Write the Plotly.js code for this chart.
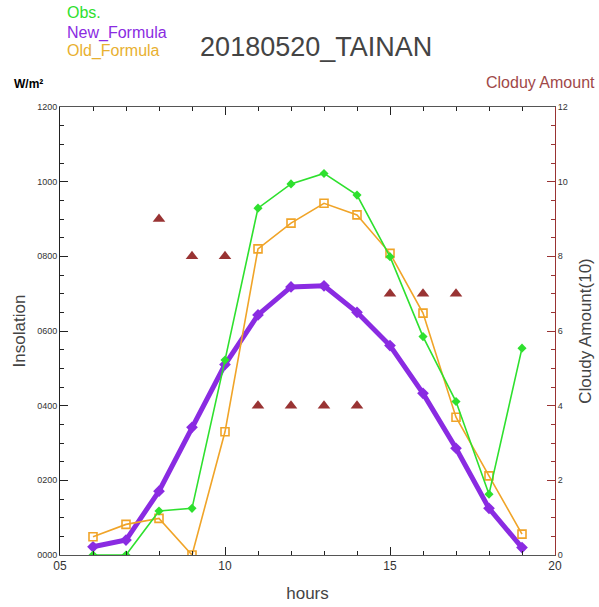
<!DOCTYPE html>
<html>
<head>
<meta charset="utf-8">
<script src="https://cdn.plot.ly/plotly-3.0.1.min.js"></script>
<style>html,body{margin:0;padding:0;background:#fff;}#chart{width:599px;height:607px;}</style>
</head>
<body>
<div id="chart"></div>
<script>
const hours = [6, 7, 8, 9, 10, 11, 12, 13, 14, 15, 16, 17, 18, 19];
const obs = [0, 0, 118, 125, 522, 929, 994, 1022, 964, 799, 585, 411, 163, 554];
const newFormula = [22, 40, 171, 342, 510, 643, 718, 721, 650, 561, 433, 286, 125, 20];
const oldFormula = [49, 82, 98, 0, 330, 820, 889, 942, 911, 808, 648, 369, 212, 56];
const cloudAmount = [null, null, 9, 8, 8, 4, 4, 4, 4, 7, 7, 7, null, null];
const xTickVals = [5, 10, 15, 20];
const xTickText = ['05', '10', '15', '20'];
const yTickVals = [0, 200, 400, 600, 800, 1000, 1200];
const yTickText = ['0000', '0200', '0400', '0600', '0800', '1000', '1200'];
const y2TickVals = [0, 2, 4, 6, 8, 10, 12];
const y2TickText = ['0', '2', '4', '6', '8', '10', '12'];

const FONT = 'Liberation Sans, Arial, sans-serif';
const GREEN = '#2ee02e', PURPLE = '#8a2be2', ORANGE = '#f0a428', BROWN = '#993333';

const traces = [
  {x: hours, y: cloudAmount, yaxis: 'y2', mode: 'markers', type: 'scatter',
   marker: {symbol: 'triangle-up', size: 11, color: BROWN}, hoverinfo: 'skip'},
  {x: hours, y: newFormula, mode: 'lines+markers', type: 'scatter',
   line: {color: PURPLE, width: 5}, marker: {symbol: 'diamond', size: 9, color: PURPLE}},
  {x: hours, y: oldFormula, mode: 'lines+markers', type: 'scatter',
   line: {color: ORANGE, width: 1.6}, marker: {symbol: 'square-open', size: 8, color: ORANGE, line: {width: 1.6}}},
  {x: hours, y: obs, mode: 'lines+markers', type: 'scatter',
   line: {color: GREEN, width: 1.6}, marker: {symbol: 'diamond', size: 7, color: GREEN}}
];

const layout = {
  width: 599, height: 607,
  margin: {l: 60, r: 44, t: 107, b: 52, pad: 0},
  paper_bgcolor: '#fff', plot_bgcolor: '#fff',
  showlegend: false,
  font: {family: FONT, color: '#333'},
  title: {text: '20180520_TAINAN', font: {family: FONT, size: 27, color: '#444'},
          x: 310 / 599, xanchor: 'center', xref: 'paper', y: 1 - 47 / 607, yanchor: 'middle', yref: 'container'},
  xaxis: {
    range: [5, 20], tickmode: 'array', tickvals: xTickVals, ticktext: xTickText,
    ticks: 'inside', ticklen: 8, tickcolor: '#222', tickwidth: 1,
    minor: {dtick: 1, ticks: 'inside', ticklen: 4, tickcolor: '#222'},
    showline: true, linecolor: '#555', linewidth: 1, mirror: 'ticks',
    showgrid: false, zeroline: false,
    tickfont: {family: FONT, size: 12, color: '#333'},
    title: {text: 'hours', font: {family: FONT, size: 17, color: '#444'}, standoff: 14}
  },
  yaxis: {
    range: [0, 1200], tickmode: 'array', tickvals: yTickVals, ticktext: yTickText,
    ticks: 'inside', ticklen: 8, tickcolor: '#222', tickwidth: 1,
    minor: {dtick: 50, ticks: 'inside', ticklen: 4, tickcolor: '#222'},
    showline: true, linecolor: '#222', linewidth: 1,
    showgrid: false, zeroline: false,
    tickfont: {family: FONT, size: 9, color: '#333'},
    title: {text: 'Insolation', font: {family: FONT, size: 17, color: '#444'}, standoff: 7}
  },
  yaxis2: {
    overlaying: 'y', side: 'right',
    range: [0, 12], tickmode: 'array', tickvals: y2TickVals, ticktext: y2TickText,
    ticks: 'inside', ticklen: 8, tickcolor: BROWN, tickwidth: 1,
    minor: {dtick: 0.5, ticks: 'inside', ticklen: 4, tickcolor: BROWN},
    showline: true, linecolor: BROWN, linewidth: 1,
    showgrid: false, zeroline: false,
    tickfont: {family: FONT, size: 9, color: '#333'},
    title: {text: 'Cloudy Amount(10)', font: {family: FONT, size: 17, color: '#444'}, standoff: 12}
  },
  annotations: [
    {text: 'Obs.', x: 65, y: 13},
    {text: 'New_Formula', x: 65, y: 33},
    {text: 'Old_Formula', x: 65, y: 51},
    {text: '<b>W/m²</b>', x: 12, y: 84},
    {text: 'Cloduy Amount', x: 484, y: 83}
  ].map((a, i) => ({
    text: a.text,
    xref: 'paper', yref: 'paper',
    x: (a.x - 60) / 495, y: (555 - a.y) / 448,
    xanchor: 'left', yanchor: 'middle', showarrow: false,
    font: {family: FONT,
           size: i === 3 ? 12 : 16,
           color: [GREEN, PURPLE, '#e8b030', '#000', '#a04848'][i]}
  }))
};

Plotly.newPlot('chart', traces, layout, {displayModeBar: false, staticPlot: true});
</script>
</body>
</html>
